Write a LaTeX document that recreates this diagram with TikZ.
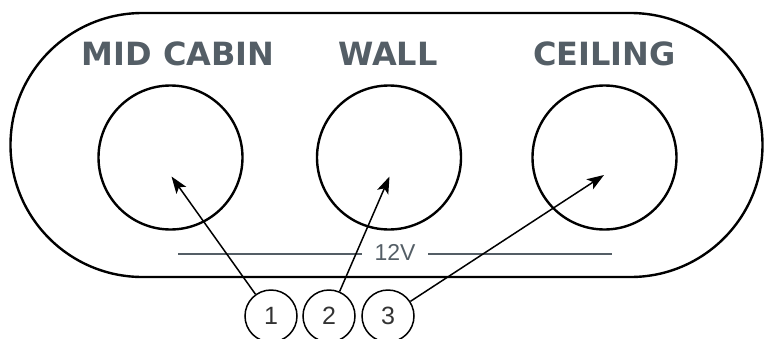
\documentclass[tikz,border=0pt]{standalone}
\usepackage{fontspec}
\setmainfont{Liberation Sans}
\newfontfamily\titlefont{DejaVu Sans}
\usetikzlibrary{arrows.meta,shapes.misc}
\definecolor{labelgray}{RGB}{84,94,102}
\definecolor{digitgray}{RGB}{51,51,51}

\begin{document}
\begin{tikzpicture}[x=1pt, y=-1pt,
    socket/.style={
        circle,
        draw,
        line width=2.4pt,
        minimum size=144pt,
        inner sep=0pt
    },
    title/.style={
        anchor=base,
        text=labelgray,
        font=\titlefont\bfseries\fontsize{32}{38}\selectfont
    },
    callout/.style={
        circle,
        draw,
        line width=1.5pt,
        minimum size=52pt,
        inner sep=0pt,
        text=digitgray,
        font=\fontsize{25}{30}\selectfont
    },
    pointer/.style={-{Stealth[length=17pt, width=12pt, inset=4pt]}, line width=1.5pt}
]
    \useasboundingbox (0,0) rectangle (764,338);

    %panel
    \node (panel) [rounded rectangle, draw, line width=2.4pt,
        minimum width=752pt, minimum height=264pt, inner sep=0pt] at (386.5,145) {};

    %sockets
    \node (mid_cabin) [socket] at (170.5,157.5) {};
    \node (wall) [socket] at (389,157.5) {};
    \node (ceiling) [socket] at (604.5,157.5) {};

    \node (mid_cabin_label) [title] at (178,65) {MID CABIN};
    \node (wall_label) [title] at (388,65) {WALL};
    \node (ceiling_label) [title] at (604.5,65) {CEILING};

    %12V rail
    \coordinate (rail_a) at (178,254);
    \coordinate (rail_b) at (362,254);
    \coordinate (rail_c) at (428,254);
    \coordinate (rail_d) at (612,254);
    \node (rail_label) [anchor=base, text=labelgray, font=\fontsize{23}{28}\selectfont] at (395,260) {12V};
    \draw[labelgray, line width=2.4pt] (rail_a) -- (rail_b);
    \draw[labelgray, line width=2.4pt] (rail_c) -- (rail_d);

    %callouts
    \node (one) [callout] at (271,316) {1};
    \node (two) [callout] at (329,316) {2};
    \node (three) [callout] at (388,316) {3};

    \coordinate (mid_cabin_tip) at (171.5,176.5);
    \coordinate (wall_tip) at (389.5,176.5);
    \coordinate (ceiling_tip) at (604,175);

    \draw[pointer] (one) to (mid_cabin_tip);
    \draw[pointer] (two) to (wall_tip);
    \draw[pointer] (three) to (ceiling_tip);

\end{tikzpicture}
\end{document}
